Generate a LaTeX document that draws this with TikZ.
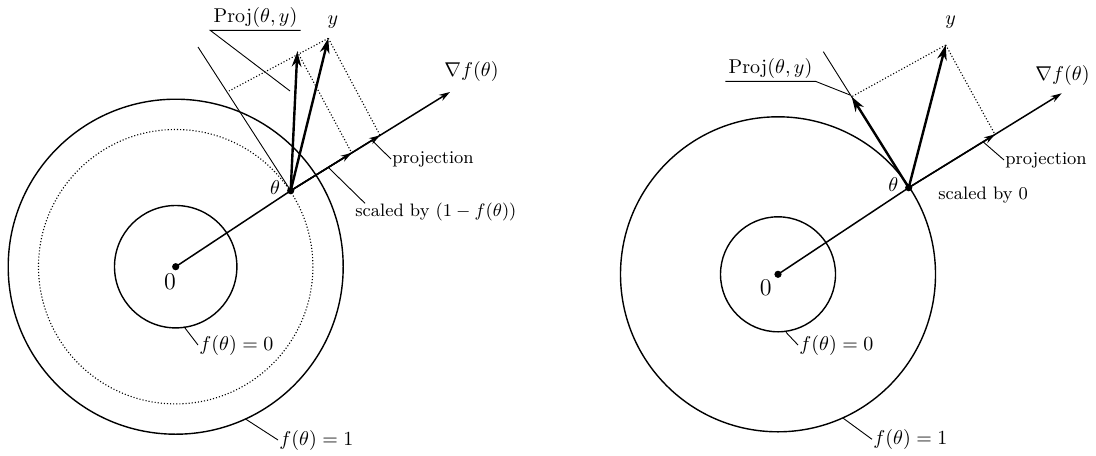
\documentclass[tikz,border=0pt]{standalone}
\usepackage{amsmath,amssymb}
\usetikzlibrary{arrows.meta,calc}

\begin{document}
\begin{tikzpicture}[
    x=0.5pt,y=-0.5pt,
    level/.style={line width=0.7pt},
    vec/.style={-{Stealth[length=7.5pt,width=4.8pt]},line width=1.2pt},
    grad/.style={-{Stealth[length=5.5pt,width=3.4pt]},line width=0.75pt},
    guide/.style={densely dotted,line width=0.55pt},
    lead/.style={line width=0.45pt},
    dot/.style={circle,fill,inner sep=0pt,minimum size=3.6pt},
    note/.style={font=\small,inner sep=0.5pt,anchor=west}
]
\useasboundingbox (0,0) rectangle (1096,455);

% Left: theta inside the band
\node[dot] (O) at (175.7,266.7) {};
\draw[level] (O.center) circle[radius=61.2];
\draw[guide] (O.center) circle[radius=137.2];
\draw[level] (O.center) circle[radius=167.5];
\node[dot] (t) at (290.7,190.7) {};
\coordinate (g) at (450,92);
\coordinate (s) at ($(t)!0.383!(g)$);
\coordinate (p) at ($(t)!0.561!(g)$);
\coordinate (y) at (328.3,38.3);
\coordinate (pr) at (297.3,51.7);
\coordinate (tt) at (198,47);
\coordinate (yt) at (229,91);

\draw[lead] (t.center) -- (tt);
\draw[guide] (y) -- (yt);
\draw[guide] (y) -- (p);
\draw[guide] (pr) -- (s);
\draw[grad] (O.center) -- (t.center) -- (g);
\draw[grad] (t.center) -- (s);
\draw[grad] (t.center) -- (p);
\draw[vec] (t.center) -- (y);
\draw[vec] (t.center) -- (pr);

\node at (333,21.7) {$y$};
\node at (275,188) {$\theta$};
\node[font=\large] at (170,281.7) {$0$};
\node at (471.5,71.7) {$\nabla f(\theta)$};
\node[inner sep=1.5pt] (projlbl) at (255.5,17) {$\mathrm{Proj}(\theta,y)$};
\draw[lead] (290,91) -- (projlbl.south west) -- (projlbl.south east);
\node[note] (projtxt) at (391,159) {projection};
\draw[lead] ($(t)!0.51!(g)$) -- (projtxt.west);
\node[note] (sctxt) at (354,212) {scaled by $(1-f(\theta))$};
\draw[lead] ($(t)!0.236!(g)$) -- (365,203.3);
\node[note,font=\normalsize] (f0) at (198,345) {$f(\theta)=0$};
\draw[lead] (184,326.7) -- (f0.west);
\node[note,font=\normalsize] (f1) at (278,440) {$f(\theta)=1$};
\draw[lead] (246,419.3) -- (f1.west);

% Right: theta on the outer circle
\node[dot] (Or) at (778,274.3) {};
\draw[level] (Or.center) circle[radius=57.5];
\draw[level] (Or.center) circle[radius=157.5];
\node[dot] (tr) at (908.7,187.7) {};
\coordinate (gr) at (1061.7,93.3);
\coordinate (pp) at ($(tr)!0.564!(gr)$);
\coordinate (yr) at (945.7,45);
\coordinate (prr) at (851.7,96.7);
\coordinate (ttr) at (823.3,51.7);

\draw[lead] (tr.center) -- (ttr);
\draw[guide] (yr) -- (prr);
\draw[guide] (yr) -- (pp);
\draw[grad] (Or.center) -- (tr.center) -- (gr);
\draw[grad] (tr.center) -- (pp);
\draw[vec] (tr.center) -- (yr);
\draw[vec] (tr.center) -- (prr);

\node at (950.7,21.7) {$y$};
\node at (893.3,185) {$\theta$};
\node[font=\large] at (765.7,287.7) {$0$};
\node at (1062.5,75) {$\nabla f(\theta)$};
\node[inner sep=1.5pt] (projlblr) at (770.5,68) {$\mathrm{Proj}(\theta,y)$};
\draw[lead] (850,95) -- (projlblr.south east) -- (projlblr.south west);
\node[note] (projtxtr) at (1004,160) {projection};
\draw[lead] ($(tr)!0.486!(gr)$) -- (projtxtr.west);
\node[note] (sctxtr) at (937,195) {scaled by $0$};
\node[note,font=\normalsize] (f0r) at (798,345) {$f(\theta)=0$};
\draw[lead] (786,332.3) -- (f0r.west);
\node[note,font=\normalsize] (f1r) at (872,439.3) {$f(\theta)=1$};
\draw[lead] (843.3,418.3) -- (f1r.west);
\end{tikzpicture}
\end{document}
